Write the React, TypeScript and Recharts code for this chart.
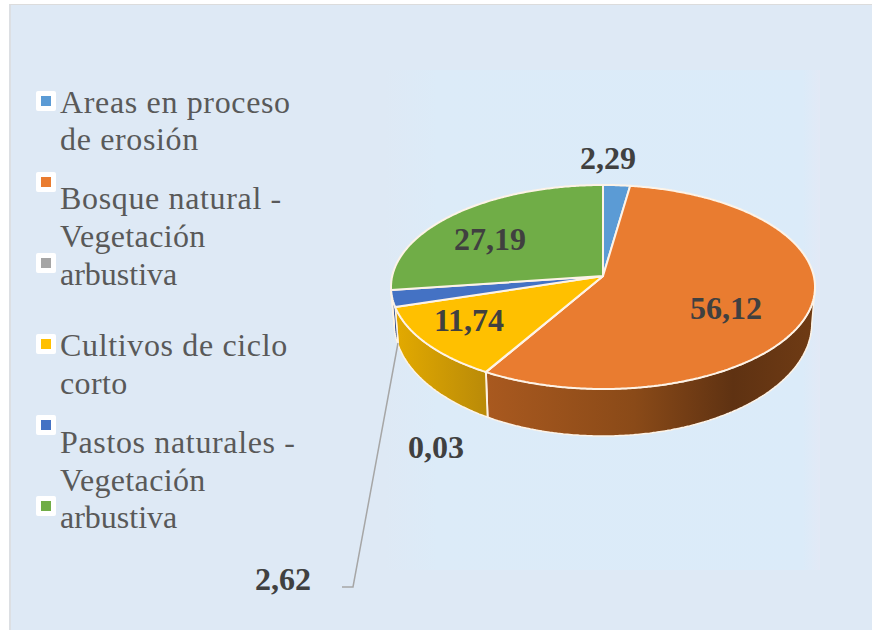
import React from 'react';
import { PieChart, Pie, Legend } from 'recharts';

const categories = [
  'Areas en proceso de erosión',
  'Bosque natural - Vegetación',
  'arbustiva',
  'Cultivos de ciclo corto',
  'Pastos naturales - Vegetación',
  'arbustiva ',
];
const values = [2.29, 56.12, 0.03, 11.74, 2.62, 27.19];
const colors = ['#5b9bd5', '#e97c30', '#a5a5a5', '#ffc000', '#4472c4', '#70ad47'];
const wallFills = ['#3f76a8', 'url(#wallOrange)', '#777777', 'url(#wallYellow)', '#2f4f8f', '#4f7f30'];

// text lines of the legend, as the reference breaks them: [text, baseline, letter spacing]
const legendLines: [string, number, number][] = [
  ['Areas en proceso', 113, 0.65],
  ['de erosión', 150, 0.65],
  ['Bosque natural -', 209, 0.65],
  ['Vegetación', 247, 0.35],
  ['arbustiva', 285, 0],
  ['Cultivos de ciclo', 356, 0.65],
  ['corto', 394, 0.4],
  ['Pastos naturales -', 453, 0.65],
  ['Vegetación', 491, 0.35],
  ['arbustiva', 528, 0],
];
const markerTops = [91, 172, 253, 334, 415, 496];
// hand placed data labels (text centre)
const labelSpots: [number, number][] = [
  [608, 158],
  [726, 308],
  [436, 447],
  [469, 320],
  [283, 579],
  [490, 239],
];

const data = values.map((value, i) => ({ name: categories[i], value, fill: colors[i] }));

// pie is seen in perspective: the apex sits above the centre of the rim ellipse
const RX = 212;
const RY = 102;
const APEX_DROP = 11;
const TILT = 0.48;

const rimPoint = (cx: number, cy: number, deg: number) => {
  const t = (deg * Math.PI) / 180;
  const dx = Math.sin(t);
  const dy = -TILT * Math.cos(t);
  const a = (dx * dx) / (RX * RX) + (dy * dy) / (RY * RY);
  const b = (2 * -APEX_DROP * dy) / (RY * RY);
  const c = (APEX_DROP * APEX_DROP) / (RY * RY) - 1;
  const s = (-b + Math.sqrt(b * b - 4 * a * c)) / (2 * a);
  return [cx + s * dx, cy + s * dy];
};

const sample = (props: any) => {
  const from = 90 - props.startAngle;
  const to = 90 - props.endAngle;
  const n = Math.max(2, Math.ceil((to - from) * 2));
  const pts: number[][] = [];
  for (let i = 0; i <= n; i++) pts.push(rimPoint(props.cx, props.cy, from + ((to - from) * i) / n));
  return pts;
};

const TopSlice = (props: any) => {
  const pts = sample(props);
  const d = `M${props.cx},${props.cy}L` + pts.map((p) => `${p[0].toFixed(1)},${p[1].toFixed(1)}`).join('L') + 'Z';
  return <path d={d} fill={props.fill} stroke="#fdf3e7" strokeWidth={2} strokeLinejoin="round" />;
};

const WallSlice = (props: any) => {
  const mid = props.cy + APEX_DROP;
  const pts = sample(props).filter((p) => p[1] >= mid);
  if (pts.length < 2) return null;
  const lower = pts
    .map((p) => {
      const depth = 36 + 11 * Math.max(0, (p[1] - mid) / RY);
      return [props.cx + (p[0] - props.cx) * 0.985, p[1] + depth];
    })
    .reverse();
  const d = 'M' + [...pts, ...lower].map((p) => `${p[0].toFixed(1)},${p[1].toFixed(1)}`).join('L') + 'Z';
  return <path d={d} fill={wallFills[props.index]} stroke="#fdf3e7" strokeWidth={1.5} strokeLinejoin="round" />;
};

const renderLabel = (props: any) => {
  const spot = labelSpots[props.index];
  return (
    <g>
      {props.index === 4 && (
        <polyline points="342,587 353,587 398,343" fill="none" stroke="#a6a6a6" strokeWidth={1.5} />
      )}
      <text
        x={spot[0]}
        y={spot[1] + 11}
        textAnchor="middle"
        fontFamily="'Liberation Serif'"
        fontWeight="bold"
        fontSize={32}
        fill="#404040"
      >
        {values[props.index].toFixed(2).replace('.', ',')}
      </text>
    </g>
  );
};

const renderLegend = (props: any) => (
  <div style={{ position: 'relative', width: 320, height: 630 }}>
    {/* both pies report here, the first six entries are enough */}
    {(props.payload || []).slice(0, categories.length).map((entry: any, i: number) => (
      <div
        key={i}
        style={{
          position: 'absolute',
          left: 36,
          top: markerTops[i],
          width: 20,
          height: 20,
          background: '#fff',
          borderRadius: 2,
        }}
      >
        <div style={{ position: 'absolute', left: 5, top: 5, width: 10, height: 10, background: entry.color }} />
      </div>
    ))}
    {legendLines.map(([text, base, spacing], i) => (
      <div
        key={i}
        style={{
          position: 'absolute',
          left: 60,
          top: base - 29,
          lineHeight: '36px',
          whiteSpace: 'nowrap',
          fontFamily: "'Liberation Serif'",
          fontSize: 32,
          letterSpacing: spacing,
          color: '#595959',
          textAlign: 'left',
        }}
      >
        {text}
      </div>
    ))}
  </div>
);

export default function App() {
  return (
    <div style={{ position: 'absolute', left: 0, top: 0, width: 872, height: 630, background: '#fff', overflow: 'hidden' }}>
      <div
        style={{
          position: 'absolute',
          left: 9,
          top: 4,
          width: 863,
          height: 626,
          background: '#dee9f5',
          borderLeft: '2px solid #dcdfe3',
          borderTop: '1px solid #dcdcdc',
          boxSizing: 'border-box',
        }}
      />
      <div
        style={{
          position: 'absolute',
          left: 385,
          top: 70,
          width: 435,
          height: 500,
          background: 'linear-gradient(90deg, #dee9f5 0%, #dcebf8 12%, #dbebf9 96%, #e2e9f6 100%)',
        }}
      />
      <div style={{ position: 'absolute', left: 0, top: 0 }}>
        <PieChart width={872} height={630} margin={{ top: 0, right: 0, bottom: 0, left: 0 }}>
          <defs>
            <linearGradient id="wallOrange" x1="0" y1="0" x2="1" y2="0">
              <stop offset="0" stopColor="#a9591f" />
              <stop offset="0.45" stopColor="#8a4a18" />
              <stop offset="0.75" stopColor="#5f3212" />
              <stop offset="1" stopColor="#6f3b14" />
            </linearGradient>
            <linearGradient id="wallYellow" x1="0" y1="0" x2="1" y2="0">
              <stop offset="0" stopColor="#e3aa00" />
              <stop offset="1" stopColor="#b98a08" />
            </linearGradient>
          </defs>
          <Pie
            data={data}
            dataKey="value"
            nameKey="name"
            cx={603}
            cy={276}
            outerRadius={RX}
            startAngle={90}
            endAngle={-270}
            legendType="none"
            shape={WallSlice}
            isAnimationActive={false}
          />
          <Pie
            data={data}
            dataKey="value"
            nameKey="name"
            cx={603}
            cy={276}
            outerRadius={RX}
            startAngle={90}
            endAngle={-270}
            shape={TopSlice}
            label={renderLabel}
            labelLine={false}
            isAnimationActive={false}
          />
          <Legend
            content={renderLegend}
            itemSorter={null}
            wrapperStyle={{ left: 0, top: 0, width: 320, height: 630 }}
          />
        </PieChart>
      </div>
    </div>
  );
}
